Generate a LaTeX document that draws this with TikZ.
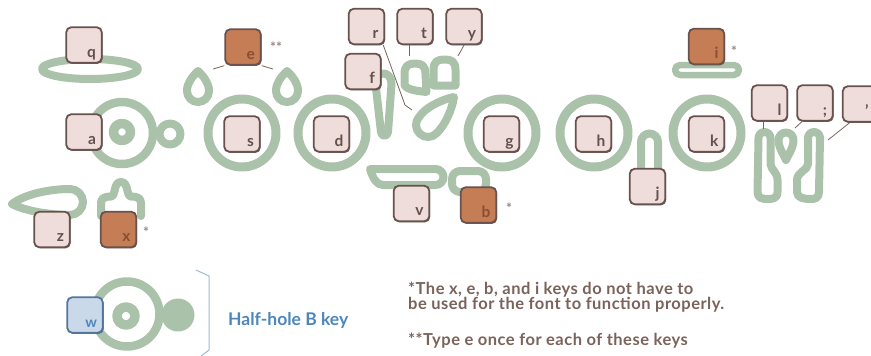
\documentclass[tikz,border=0pt]{standalone}
\usepackage{fontspec}
\setmainfont{Lato}
\usetikzlibrary{shadows}
\definecolor{sage}{RGB}{171,194,170}
\definecolor{keyfill}{RGB}{238,221,218}
\definecolor{keyborder}{RGB}{105,82,78}
\definecolor{orangek}{RGB}{196,125,84}
\definecolor{letterc}{RGB}{100,80,76}
\definecolor{letteror}{RGB}{140,78,50}
\definecolor{bluefill}{RGB}{201,217,233}
\definecolor{blueborder}{RGB}{82,118,158}
\definecolor{bluetxt}{RGB}{77,135,186}
\definecolor{brk}{RGB}{160,186,210}
\definecolor{legc}{RGB}{122,99,90}
\definecolor{astc}{RGB}{150,134,128}
\definecolor{connc}{RGB}{120,100,95}
\begin{document}
\begin{tikzpicture}[x=1pt,y=-1pt,
  hole/.style={draw=sage,line width=8pt,line join=round,line cap=round},
  keybox/.style={draw=keyborder,fill=keyfill,line width=1.8pt,rounded corners=5pt,
    minimum size=35.5pt,inner sep=0pt,
    drop shadow={shadow xshift=0.9pt,shadow yshift=-1.1pt,fill=keyborder,opacity=0.9}},
  orkey/.style={keybox,fill=orangek},
  wkey/.style={keybox,fill=bluefill,draw=blueborder,
    drop shadow={shadow xshift=0.9pt,shadow yshift=-1.1pt,fill=blueborder,opacity=0.9}},
  klbl/.style={anchor=base east,font=\bfseries\fontsize{15.5}{15.5}\selectfont,text=letterc,
    inner sep=0pt,xshift=-6.5pt,yshift=6.5pt},
  klblor/.style={klbl,text=letteror},
  klblw/.style={klbl,text=bluetxt,font=\bfseries\fontsize{14.5}{14.5}\selectfont},
  conn/.style={draw=connc,line width=0.8pt},
  ast/.style={text=astc,font=\bfseries\fontsize{14}{14}\selectfont,inner sep=0pt},
  legtxt/.style={anchor=base west,text=legc,
    font=\bfseries\fontsize{16.5}{16.5}\selectfont\addfontfeature{LetterSpace=3},inner sep=0pt}]
\useasboundingbox (0,0) rectangle (871,356);
\fill[white] (0,0) rectangle (871,356);

% ---------- green hole outlines ----------
% q ellipse
\draw[hole] (90,69) ellipse [x radius=48, y radius=10];
% e teardrops
\draw[hole] (198,71) .. controls (192,77) and (187,83) .. (187,91)
  arc[start angle=180,end angle=0,radius=11]
  .. controls (209,83) and (204,77) .. (198,71) -- cycle;
\draw[hole] (287,71) .. controls (281,77) and (276,83) .. (276,91)
  arc[start angle=180,end angle=0,radius=11]
  .. controls (298,83) and (293,77) .. (287,71) -- cycle;
% a hole group
\draw[hole,line width=8.5pt] (122,133) circle[radius=31];
\draw[hole,line width=9.5pt] (122,132) circle[radius=8.5];
\draw[hole] (170,134) circle[radius=10.5];
% big circles
\draw[hole,line width=9pt] (242,133) circle[radius=34];
\draw[hole,line width=9pt] (332,133) circle[radius=34];
\draw[hole,line width=9pt] (502,133) circle[radius=34];
\draw[hole,line width=9pt] (594,133) circle[radius=34];
\draw[hole,line width=9pt] (707,133) circle[radius=34];
% z shape
\draw[hole] (12,204) .. controls (25,194) and (50,189) .. (70,189)
  arc[start angle=270,end angle=450,radius=13]
  .. controls (50,215) and (25,211) .. (12,204) -- cycle;
% x shape
\draw[hole] (101,216) -- (101,203) .. controls (101,198) and (105,196.5) .. (111,196.5)
  .. controls (116,196.5) and (113,182) .. (121,182)
  .. controls (129,182) and (126,196.5) .. (131,196.5)
  .. controls (137,196.5) and (141,198) .. (141,203) -- (141,216);
% f shape
\draw[hole] (375.5,84) .. controls (375.5,70) and (391.5,70) .. (391.5,84)
  -- (388,132) .. controls (387.5,137) and (381.5,137) .. (381,132) -- cycle;
% t shape
\draw[hole] (404.5,85) -- (404.5,74) .. controls (404.5,66) and (408,63.5) .. (415,63.5)
  .. controls (422,63.5) and (425.5,66) .. (425.5,74) -- (426.5,92)
  .. controls (418,91) and (407,90) .. (404.5,85) -- cycle;
% y arch
\draw[hole] (433.5,85.5) -- (433.5,70) .. controls (433.5,61) and (438,59.5) .. (444.5,59.5)
  .. controls (451,59.5) and (455.5,61) .. (455.5,70) -- (455.5,85.5) -- cycle;
% leaf
\draw[hole] (454,97) .. controls (440,100) and (425,108) .. (419.2,116.8)
  arc[start angle=223,end angle=43,radius=12]
  .. controls (445,125) and (452,110) .. (454,97) -- cycle;
% v tray
\draw[hole] (370,169) -- (435.5,169) arc[start angle=270,end angle=450,radius=8]
  -- (383,185) .. controls (377,185) and (373,179) .. (370,169) -- cycle;
% b loop
\draw[hole,rounded corners=8pt] (452,171) rectangle (486,192);
% j U
\draw[hole] (641,176) -- (641,142) arc[start angle=180,end angle=360,radius=8.5] -- (658,176);
% i stadium
\draw[hole,line width=6.5pt,rounded corners=5pt] (675,65) rectangle (739,75);
% right-hand group
\draw[hole] (758.5,138) arc[start angle=180,end angle=360,radius=6]
  -- (770.5,164) .. controls (771,170) and (777.5,172) .. (777.5,180) -- (777.5,192)
  .. controls (777.5,199) and (772,199) .. (767,199)
  .. controls (762,199) and (757.5,198) .. (757.5,192) -- cycle;
\draw[hole] (778.5,140) arc[start angle=180,end angle=360,radius=7.5]
  .. controls (793.5,148) and (788,155) .. (786,160)
  .. controls (784,155) and (778.5,148) .. (778.5,140) -- cycle;
\draw[hole] (808,138) arc[start angle=180,end angle=360,radius=6]
  -- (819,192) .. controls (819,198) and (815,199) .. (811,199)
  .. controls (804,199) and (797,198) .. (797,192) -- (797,180)
  .. controls (797,172) and (808,170) .. (808,164) -- cycle;

% half-hole B legend shapes
\draw[hole,line width=8.5pt] (127,314) circle[radius=32.5];
\draw[hole,line width=9.5pt] (126,316) circle[radius=9];
\fill[sage] (178,315) circle[radius=16.5];
\draw[draw=brk,line width=1pt] (196,270) -- (209,276) -- (209,350) -- (201,356);

% ---------- keys ----------
\node[keybox,label={[klbl]-45:q}] (q) at (84,45) {};
\node[orkey,label={[klblor]-45:e}] (e) at (243,47) {};
\node[keybox,label={[klbl]-45:a}] (a) at (84,132) {};
\node[keybox,label={[klbl]-45:s}] (s) at (242,134) {};
\node[keybox,label={[klbl]-45:d}] (d) at (331.5,134) {};
\node[keybox,label={[klbl]-45:r}] (r) at (366.5,26.5) {};
\node[keybox,label={[klbl]-45:t}] (t) at (415,26.5) {};
\node[keybox,label={[klbl]-45:y}] (y) at (464,26.5) {};
\node[keybox,label={[klbl]-45:f}] (f) at (363,71.5) {};
\node[keybox,label={[klbl]-45:g}] (g) at (501.5,134) {};
\node[keybox,label={[klbl]-45:h}] (h) at (593.5,134) {};
\node[keybox,label={[klbl]-45:v}] (v) at (411.5,203.5) {};
\node[orkey,label={[klblor]-45:b}] (b) at (478.5,205) {};
\node[orkey,label={[klblor]-45:i}] (i) at (706.5,46.5) {};
\node[keybox,label={[klbl]-45:k}] (k) at (706.5,134) {};
\node[keybox,label={[klbl]-45:j}] (j) at (647.5,186.5) {};
\node[keybox,label={[klbl]-45:l}] (l) at (769.5,103) {};
\node[keybox,label={[klbl]-45:;}] (sc) at (815,103) {};
\node[keybox,label={[klbl,xshift=-4pt]-45:'}] (ap) at (860.5,104) {};
\node[keybox,label={[klbl]-45:z}] (z) at (52,229.5) {};
\node[orkey,label={[klblor]-45:x}] (x) at (118.5,229.5) {};
\node[wkey,label={[klblw]-45:w}] (w) at (85,315) {};

% ---------- connectors ----------
\coordinate (eL) at (213,69);
\coordinate (eR) at (273,69);
\coordinate (rB) at (405,105);
\coordinate (rE) at (412,110);
\coordinate (tE) at (409,56);
\coordinate (yE) at (458,56);
\coordinate (lE) at (763,129);
\coordinate (scE) at (795,128);
\coordinate (apE) at (828,140);
\draw[conn] (e.south west) -- (eL);
\draw[conn] (e.south east) -- (eR);
\draw[conn] (r.-48) -- (rB) -- (rE);
\draw[conn] (t.south -| tE) -- (tE);
\draw[conn] (y.south) -- (yE);
\draw[conn] (l.south -| lE) -- (lE);
\draw[conn] (sc.235) -- (scE);
\draw[conn] (ap.240) -- (apE);

% ---------- asterisks ----------
\node[ast] (astE) at (276,47) {**};
\node[ast] (astX) at (146,232) {*};
\node[ast] (astB) at (509,208) {*};
\node[ast] (astI) at (734,51) {*};

% ---------- legend text ----------
\node[anchor=base west,text=bluetxt,font=\bfseries\fontsize{17.5}{17.5}\selectfont,inner sep=0pt]
  (hh) at (228,325) {Half-hole B key};
\node[legtxt] (n1) at (408,294) {*The x, e, b, and i keys do not have to};
\node[legtxt] (n2) at (408,309) {be used for the font to function properly.};
\node[legtxt] (n3) at (408,345) {**Type e once for each of these keys};
\end{tikzpicture}
\end{document}
